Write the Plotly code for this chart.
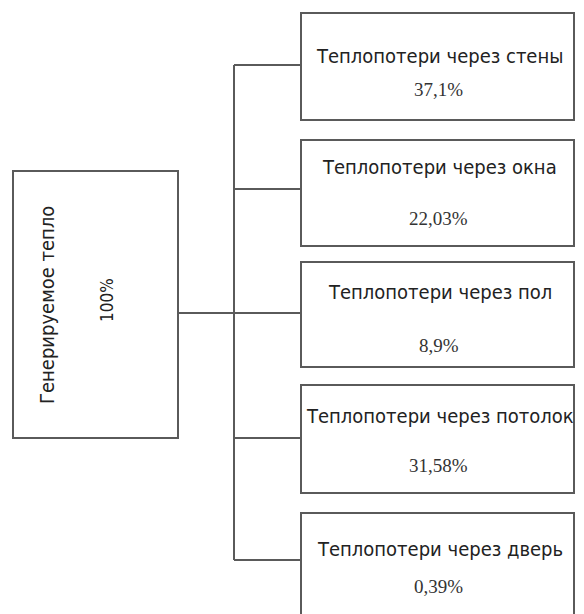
import plotly.graph_objects as go

# Data
source_label = "Генерируемое тепло"
source_value = "100%"
loss_labels = [
    "Теплопотери через стены",
    "Теплопотери через окна",
    "Теплопотери через пол",
    "Теплопотери через потолок",
    "Теплопотери через дверь",
]
loss_values = ["37,1%", "22,03%", "8,9%", "31,58%", "0,39%"]

# Layout geometry (pixels in a 584x614 canvas; page body has an 8px margin)
W, H = 584, 614
OFF = 8
FIG_H = H - OFF
src_box = dict(x0=13, x1=178, y0=171, y1=438)
box_tops = [13, 140, 262, 385, 513]
box_bottoms = [120, 246, 367, 493, 640]
conn_y = [65, 189, 313, 438, 560]
title_y = [56, 167, 292, 416, 549]
value_y = [89, 218, 345, 465, 586]
box_x0, box_x1 = 301, 574
spine_x = 234
line_color = "#5a5a5a"

title_font = dict(family="DejaVu Sans Condensed, Roboto, sans-serif", size=20, color="#222222")
value_font = dict(family="Liberation Serif, Times New Roman, serif", size=19, color="#333333")

fig = go.Figure()
shapes = []
annotations = []

shapes.append(dict(type="rect", xref="x", yref="y", **src_box,
                   line=dict(color=line_color, width=2), fillcolor="white"))
shapes.append(dict(type="line", xref="x", yref="y", x0=src_box["x1"], x1=spine_x,
                   y0=313, y1=313, line=dict(color=line_color, width=2)))
shapes.append(dict(type="line", xref="x", yref="y", x0=spine_x, x1=spine_x,
                   y0=conn_y[0], y1=conn_y[-1], line=dict(color=line_color, width=2)))

for i, (lab, val) in enumerate(zip(loss_labels, loss_values)):
    shapes.append(dict(type="rect", xref="x", yref="y", x0=box_x0, x1=box_x1,
                       y0=box_tops[i], y1=box_bottoms[i],
                       line=dict(color=line_color, width=2), fillcolor="white"))
    shapes.append(dict(type="line", xref="x", yref="y", x0=spine_x, x1=box_x0,
                       y0=conn_y[i], y1=conn_y[i], line=dict(color=line_color, width=2)))
    annotations.append(dict(x=(box_x0 + box_x1) / 2 + 2, y=title_y[i], xref="x", yref="y",
                            text=lab, showarrow=False, font=title_font))
    annotations.append(dict(x=(box_x0 + box_x1) / 2 + 1, y=value_y[i], xref="x", yref="y",
                            text=val, showarrow=False, font=value_font))

annotations.append(dict(x=47, y=305, xref="x", yref="y", text=source_label, textangle=-90,
                        showarrow=False, font=dict(family=title_font["family"], size=20,
                                                   color="#222222")))
annotations.append(dict(x=107, y=300, xref="x", yref="y", text=source_value, textangle=-90,
                        showarrow=False, font=dict(family=title_font["family"], size=17,
                                                   color="#222222")))

fig.update_layout(
    width=W - OFF, height=FIG_H,
    margin=dict(l=0, r=0, t=0, b=0),
    paper_bgcolor="white", plot_bgcolor="white",
    xaxis=dict(range=[OFF, W], visible=False, fixedrange=True),
    yaxis=dict(range=[OFF + FIG_H, OFF], visible=False, fixedrange=True),
    shapes=shapes, annotations=annotations, showlegend=False,
)
fig.write_html("out.html")
